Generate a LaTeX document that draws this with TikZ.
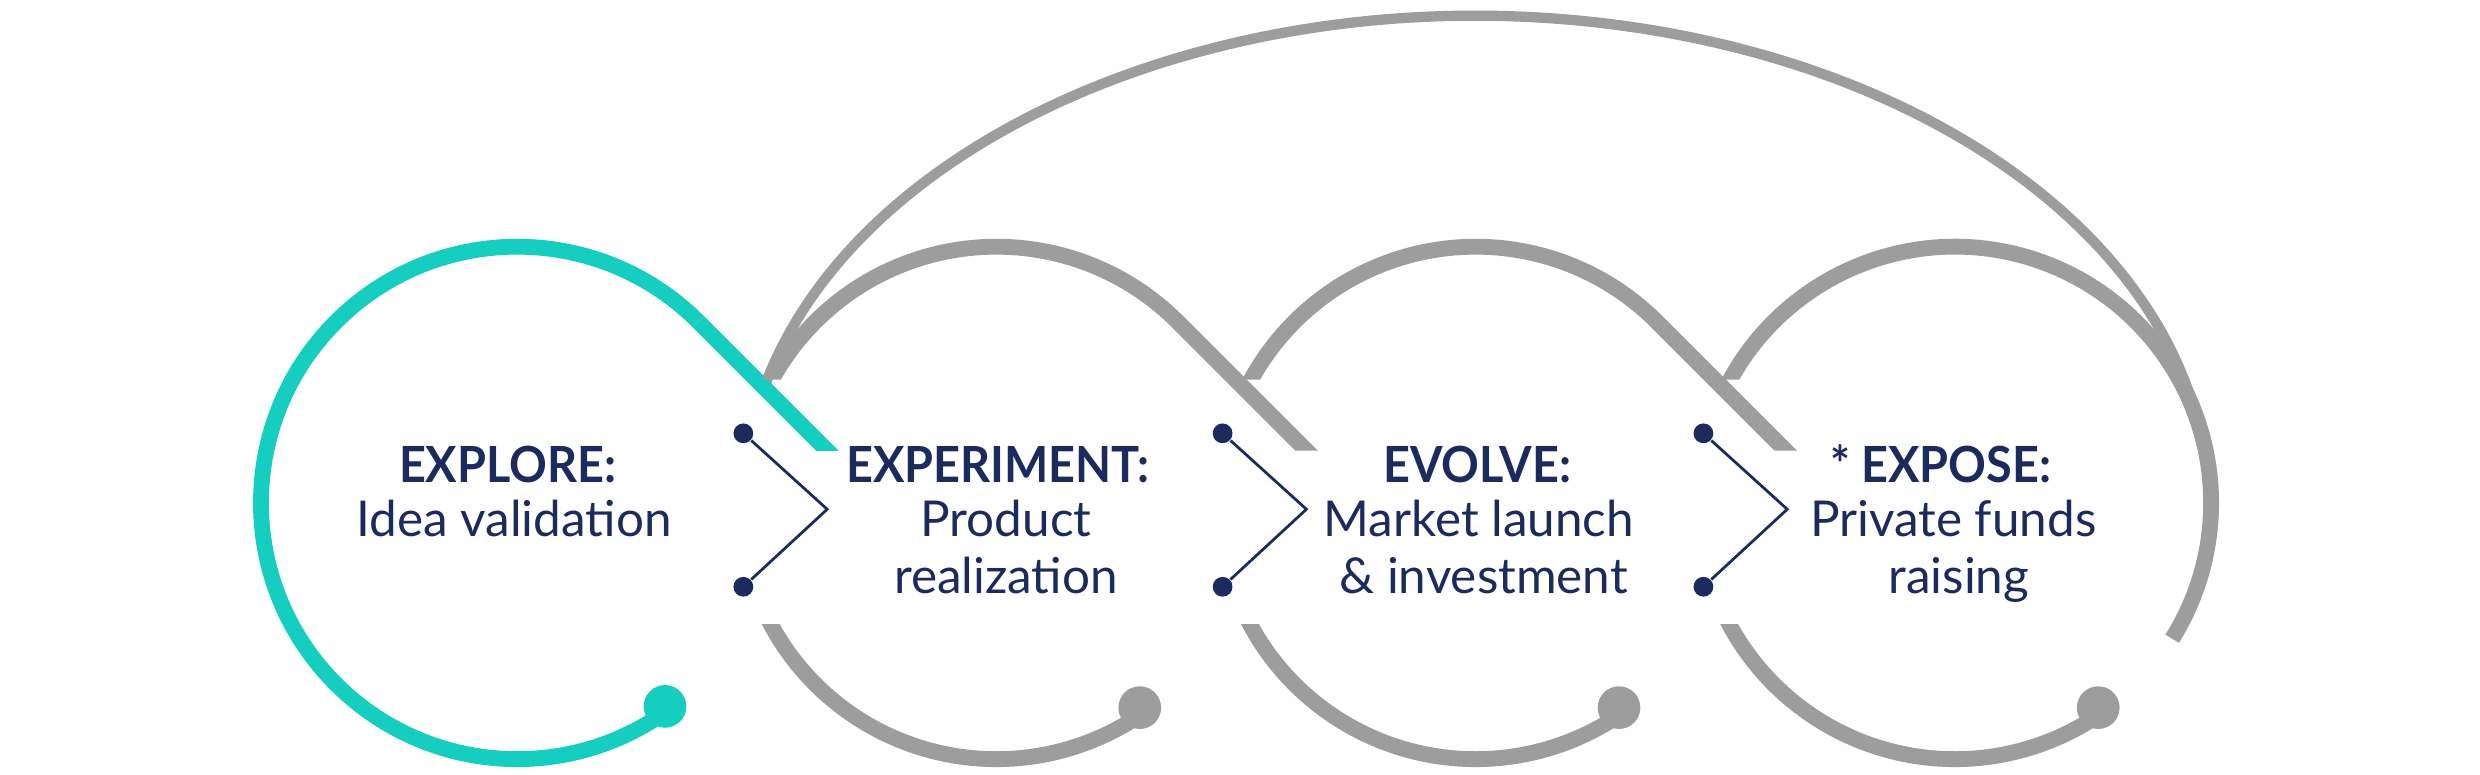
\documentclass[tikz,border=0pt]{standalone}
\usepackage{fontspec}
\setmainfont{Lato}[BoldFeatures={FakeStretch=0.94}]

\definecolor{ringteal}{HTML}{16CEC0}
\definecolor{ringgray}{HTML}{9D9D9D}
\definecolor{navy}{HTML}{1C2B5E}

\tikzset{
  ring/.style={line width=4pt, line cap=butt},
  loopback/.style={ringgray, line width=2.6pt},
  hook/.style={navy, line width=0.7pt},
  knob/.style={circle, fill=navy, inner sep=0pt, minimum size=5pt},
  title/.style={navy, inner sep=0pt, anchor=base, font=\bfseries\fontsize{12.6}{15}\selectfont},
  sub/.style={navy, inner sep=0pt, anchor=base, font=\fontsize{12.5}{15}\selectfont},
}

\begin{document}
\begin{tikzpicture}[x=0.4pt,y=0.4pt]
  \useasboundingbox (0,0) rectangle (1568,490);
  % ring centres
  \coordinate (c1) at (327,172);
  \coordinate (c2) at (630,172);
  \coordinate (c3) at (933,172);
  \coordinate (c4) at (1236,172);

  % loop back over the top
  \draw[loopback] (c3) ++(166:463 and 308) arc[start angle=166, end angle=8, x radius=463, y radius=308];

  % first ring
  \begin{scope}
    \clip (c1) ++(60,33) rectangle ++(200,250);
    \draw[ring, ringteal] (c1) ++(45:162) -- ++(-45:130);
  \end{scope}
  \draw[ring, ringteal] (c1) ++(45:162) arc[start angle=45, end angle=304, radius=162];
  \fill[ringteal] (c1) ++(306:159) circle[radius=13.5];

  % upper halves of the grey rings
  \foreach \k in {2,3} {
    \begin{scope}
      \clip (c\k) ++(-200,78) rectangle ++(260,200)
            (c\k) ++(60,33) rectangle ++(200,250);
      \draw[ring, ringgray] (c\k) ++(160:162) arc[start angle=160, end angle=45, radius=162] -- ++(-45:130);
    \end{scope}
  }
  \begin{scope}
    \clip (c4) ++(-200,78) rectangle ++(450,200)
          (c4) ++(60,-200) rectangle ++(190,278);
    \draw[ring, ringgray] (c4) ++(160:162) arc[start angle=160, end angle=-32, radius=162];
  \end{scope}

  % lower halves of the grey rings
  \foreach \k in {2,3,4} {
    \begin{scope}
      \clip (c\k) ++(-200,-200) rectangle ++(400,123);
      \draw[ring, ringgray] (c\k) ++(200:162) arc[start angle=200, end angle=303, radius=162];
    \end{scope}
    \fill[ringgray] (c\k) ++(305:158) circle[radius=13.5];
  }

  % hooks between the rings
  \foreach \k/\x in {1/470,2/773,3/1077} {
    \node[knob] (top\k) at (\x,216) {};
    \node[knob] (bot\k) at (\x,119) {};
    \coordinate (tip\k) at (\x+53,168);
    \draw[hook] (top\k) -- (tip\k) -- (bot\k);
  }

  % labels
  \node[title] (explore) at (321,185) {EXPLORE:};
  \node[sub] (explore1) at (325,150.5) {Idea validation};
  \node[title] (experiment) at (631,185) {EXPERIMENT:};
  \node[sub] (experiment1) at (636,150.5) {Product};
  \node[sub] (experiment2) at (636,115) {realization};
  \node[title] (evolve) at (934,185) {EVOLVE:};
  \node[sub] (evolve1) at (935,150.5) {Market launch};
  \node[sub] (evolve2) at (938,115) {\& investment};
  \node[title] (expose) at (1227,185) {* EXPOSE:};
  \node[sub] (expose1) at (1235,150.5) {Private funds};
  \node[sub] (expose2) at (1238.5,115) {raising};
\end{tikzpicture}
\end{document}
